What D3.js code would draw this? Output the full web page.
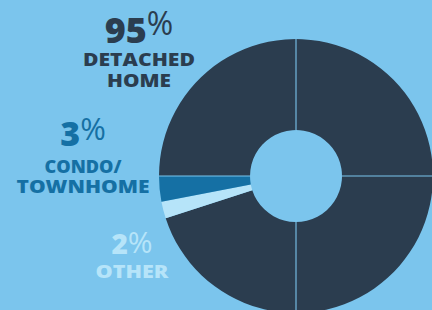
<!DOCTYPE html>
<html>
<head>
<meta charset="utf-8">
<script src="https://cdn.jsdelivr.net/npm/d3@7"></script>
<style>
  body { margin: 0; background: #7bc5ed; }
  svg { display: block; }
  text { font-family: "Open Sans", sans-serif; font-weight: 800; }
</style>
</head>
<body>
<div id="chart"></div>
<script>
// chart values
const categories = ["DETACHED HOME", "OTHER", "CONDO/ TOWNHOME"];
const shares = [95, 2, 3];
const colors = ["#2b3d4f", "#b6e4f9", "#1570a4"];
const labelLines = [["DETACHED", "HOME"], ["OTHER"], ["CONDO/", "TOWNHOME"]];

const width = 432, height = 310;
const cx = 296, cy = 176, outerR = 137, innerR = 46;
const bg = "#7bc5ed";

const svg = d3.select("#chart").append("svg")
  .attr("width", width)
  .attr("height", height);

const g = svg.append("g").attr("transform", `translate(${cx},${cy})`);

const data = categories.map((c, i) => ({name: c, value: shares[i], color: colors[i], lines: labelLines[i]}));

// pie starts pointing left and runs clockwise
const pie = d3.pie().sort(null).value(d => d.value)
  .startAngle(-Math.PI / 2).endAngle(Math.PI * 1.5);
const arc = d3.arc().innerRadius(innerR).outerRadius(outerR);

g.selectAll("path.slice")
  .data(pie(data))
  .enter().append("path")
  .attr("class", "slice")
  .attr("d", arc)
  .attr("fill", d => d.data.color);

// thin quadrant dividers
const radial = d3.lineRadial();
g.selectAll("path.divider")
  .data(d3.range(4))
  .enter().append("path")
  .attr("class", "divider")
  .attr("d", q => radial([[q * Math.PI / 2, innerR], [q * Math.PI / 2, outerR]]))
  .attr("stroke", bg)
  .attr("stroke-width", 1.1)
  .attr("fill", "none");

// label layout: centre x, number baseline, number size, % size, % raise, first line baseline, line size, line gap, line widths
const labelPos = {
  "DETACHED HOME": {x: 139, y: 43, num: 36, pct: 32, raise: 8, ly: 66, ls: 18, lh: 21, widths: [112, 64]},
  "CONDO/ TOWNHOME": {x: 83, y: 146, num: 34, pct: 31, raise: 6, ly: 173, ls: 18, lh: 20, widths: [77, 133]},
  "OTHER": {x: 132, y: 254, num: 28, pct: 30, raise: 1, ly: 278, ls: 18, lh: 20, widths: [73]}
};

data.forEach(d => {
  const p = labelPos[d.name];
  const t = svg.append("text")
    .attr("x", p.x).attr("y", p.y)
    .attr("text-anchor", "middle")
    .attr("fill", d.color);
  t.append("tspan").attr("font-size", p.num).text(d.value);
  t.append("tspan").attr("font-size", p.pct).attr("font-weight", 500)
    .attr("dy", -p.raise).text("%");

  d.lines.forEach((line, i) => {
    svg.append("text")
      .attr("x", p.x).attr("y", p.ly + i * p.lh)
      .attr("text-anchor", "middle")
      .attr("font-size", p.ls)
      .attr("textLength", p.widths[i])
      .attr("lengthAdjust", "spacingAndGlyphs")
      .attr("fill", d.color)
      .text(line);
  });
});
</script>
</body>
</html>
